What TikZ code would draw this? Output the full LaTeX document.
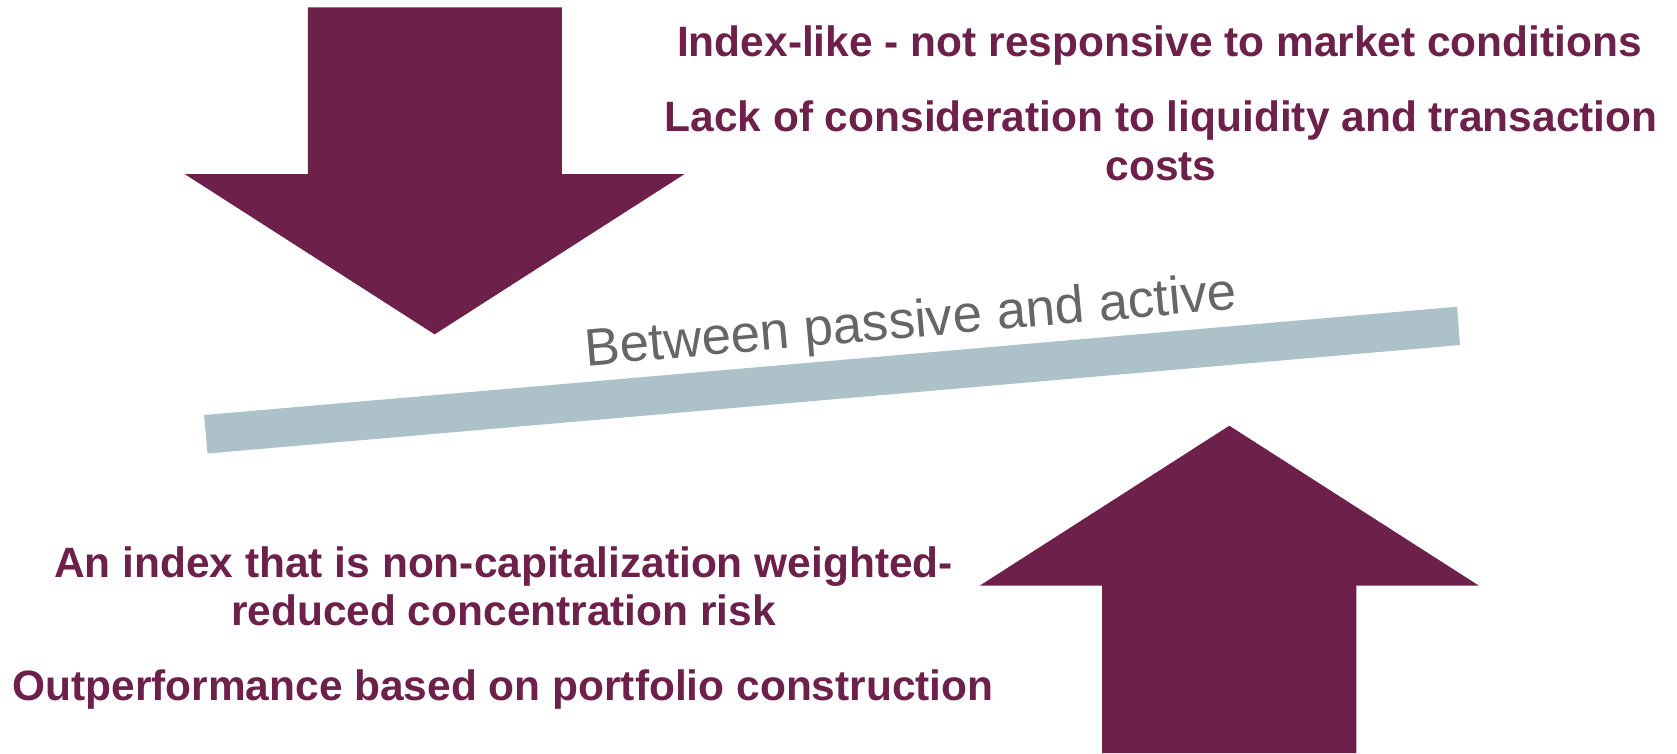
\documentclass[tikz,border=0pt]{standalone}
\usepackage{fontspec}
\setmainfont{Liberation Sans}
\definecolor{fund_purple}{RGB}{108, 32, 74}
\definecolor{fund_bar}{RGB}{173, 193, 200}
\definecolor{fund_gray}{RGB}{102, 102, 102}
\usetikzlibrary{positioning}

\begin{document}
\begin{tikzpicture}[x=0.01cm, y=-0.01cm,
            point/.style={font=\fontsize{12.07pt}{13.8pt}\selectfont\bfseries,
                          text=fund_purple, align=center, inner sep=0pt, anchor=base},
            big arrow/.style={fill=fund_purple}]
            \useasboundingbox (0,0) rectangle (1677,753);
            % the two arrows
            \fill[big arrow] (307.9,7.3) -- (561.8,7.3) -- (561.8,174) -- (684.6,174)
              -- (434.6,334.3) -- (184.6,174) -- (307.9,174) -- cycle;
            \fill[big arrow] (1102.2,753) -- (1102.2,585.7) -- (979.6,585.7)
              -- (1229.3,425.7) -- (1479,585.7) -- (1356.4,585.7) -- (1356.4,753) -- cycle;
            % the balance bar
            \fill[fund_bar] (204,415) -- (207.5,453.5) -- (1460,345) -- (1457,306.7) -- cycle;
            \node[font=\fontsize{15pt}{18pt}\selectfont, text=fund_gray, inner sep=0pt,
                  anchor=base, rotate=5] (mid) at (912,337.5) {Between passive and active};
            % top points (base = last line)
            \node[point] (p1) at (1159.5,56.7)
              {Index-like - not responsive to market conditions};
            \node[point] (p2) at (1161,180)
              {Lack of consideration to liquidity and transaction\\ costs};
            % bottom points
            \node[point] (p3) at (503.5,625.7)
              {An index that is non-capitalization weighted-\\ reduced concentration risk};
            \node[point] (p4) at (503,700)
              {Outperformance based on portfolio construction};
          \end{tikzpicture}
\end{document}
